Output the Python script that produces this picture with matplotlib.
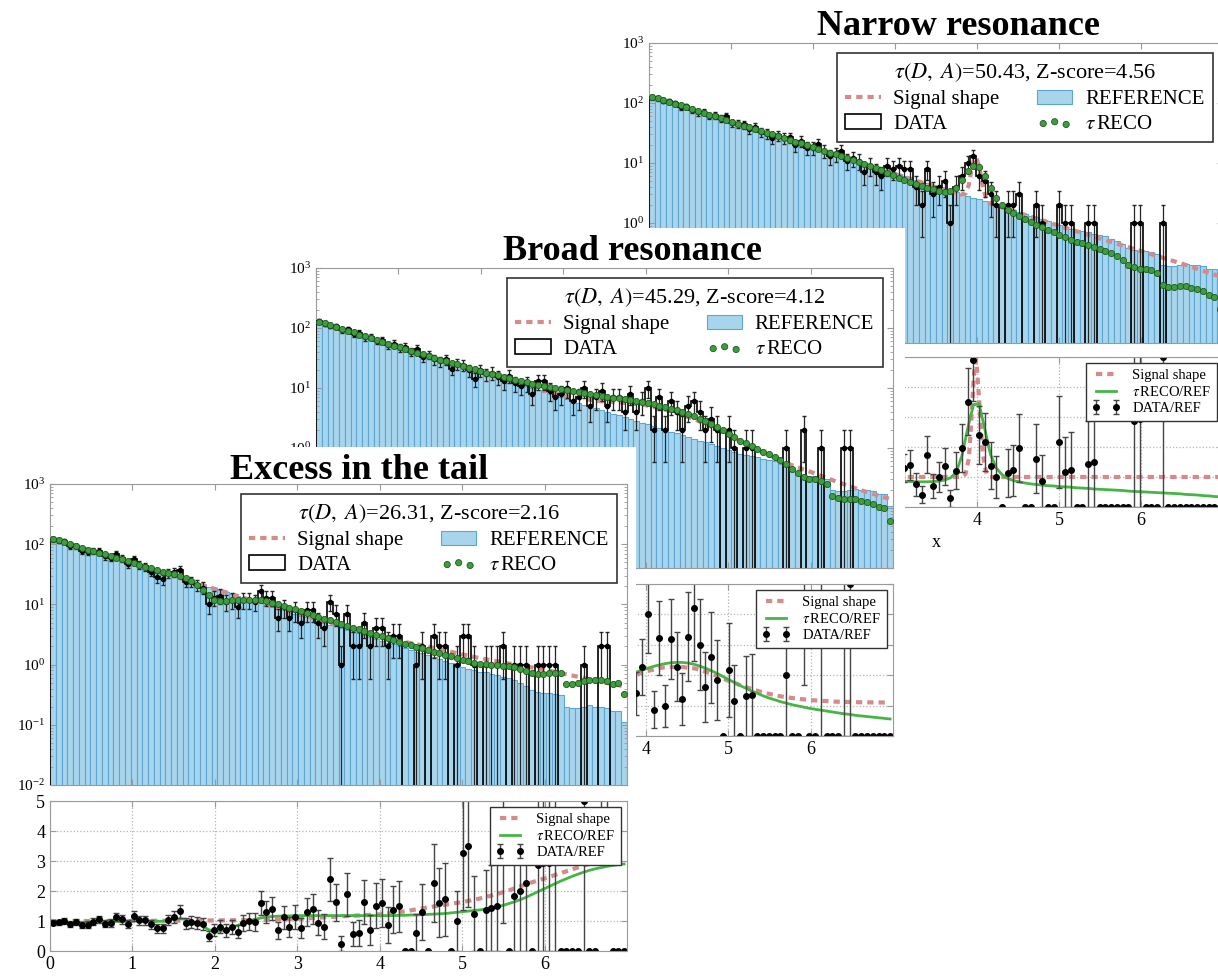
import numpy as np
import matplotlib
matplotlib.use("Agg")
import matplotlib.pyplot as plt
from matplotlib.patches import Rectangle

plt.rcParams["font.family"] = ["Liberation Serif", "DejaVu Serif"]
plt.rcParams["mathtext.fontset"] = "stix"

W, H = 1218, 977

# shared binning (100 bins of 0.07 on [0, 7]) and reference histogram
edges = np.linspace(0.0, 7.0, 101)
centers = 0.5 * (edges[:-1] + edges[1:])

ref = np.array([
    128, 120, 112, 104, 97, 91, 85, 79, 74, 69,
    64, 60, 56, 52, 49, 45, 42, 39.5, 37, 34.5,
    32, 30, 28, 26, 24.5, 22.8, 21.2, 19.8, 18.5, 17.2,
    16.0, 15.0, 14.0, 13.0, 12.2, 11.3, 10.6, 9.9, 9.2, 8.6,
    8.0, 7.5, 7.0, 6.5, 6.1, 5.7, 5.3, 4.9, 4.6, 4.3,
    4.0, 3.7, 3.5, 3.3, 3.05, 2.85, 2.65, 2.5, 2.32, 2.17,
    2.02, 1.88, 1.76, 1.64, 1.53, 1.43, 1.33, 1.24, 1.16, 1.08,
    1.0, 0.92, 0.86, 0.80, 0.76, 0.74, 0.70, 0.66, 0.63, 0.60,
    0.55, 0.50, 0.44, 0.38, 0.35, 0.34, 0.34, 0.33, 0.31, 0.20,
    0.19, 0.19, 0.20, 0.21, 0.20, 0.20, 0.19, 0.17, 0.17, 0.11])

# ---- Excess in the tail ----
tail_data = np.array([
    120, 115, 112, 92, 93, 78, 75, 77, 78, 63,
    60, 68, 59, 47, 57, 46, 43, 35, 28, 26,
    33, 34, 37, 24, 24, 21, 19, 10, 13, 14,
    11, 12, 9, 12, 12, 11, 17, 13, 13, 6,
    9, 6, 8, 5, 8, 8, 5, 4, 11, 7,
    1, 7, 2, 2, 5, 2, 4, 4, 2, 3,
    3, 0, 0, 1, 2, 0, 3, 2, 2, 0,
    1, 3, 3, 1, 0, 1, 1, 1, 2, 0,
    1, 1, 1, 0, 1, 1, 1, 1, 0, 0,
    0, 0, 1, 0, 0, 2, 2, 0, 0, 0], dtype=float)
tail_reco_ratio = np.array([
    0.97, 0.97, 0.97, 0.96, 0.96, 0.96, 0.96, 0.97, 0.97, 0.98,
    0.98, 0.99, 1.0, 1.0, 1.01, 1.01, 1.0, 1.0, 0.99, 0.99,
    1.04, 1.06, 1.07, 1.06, 1.0, 0.92, 0.82, 0.71, 0.65, 0.66,
    0.71, 0.78, 0.85, 0.92, 0.98, 1.05, 1.1, 1.13, 1.15, 1.16,
    1.17, 1.17, 1.18, 1.18, 1.18, 1.18, 1.18, 1.18, 1.18, 1.18,
    1.18, 1.18, 1.18, 1.18, 1.18, 1.18, 1.18, 1.18, 1.18, 1.18,
    1.19, 1.19, 1.2, 1.2, 1.21, 1.22, 1.23, 1.24, 1.25, 1.27,
    1.29, 1.31, 1.33, 1.35, 1.37, 1.4, 1.43, 1.47, 1.52, 1.58,
    1.64, 1.71, 1.79, 1.88, 1.97, 2.06, 2.15, 2.24, 2.33, 2.41,
    2.49, 2.56, 2.63, 2.69, 2.74, 2.78, 2.82, 2.85, 2.88, 2.9])
tail_sig_x = [0, 0.5, 1, 1.5, 2, 2.5, 3, 3.5, 4, 4.3, 4.6, 5, 5.2, 5.4, 5.6, 5.8,
              6, 6.2, 6.4, 6.6, 6.8, 6.95]
tail_sig_ratio = [1.0, 1.0, 1.0, 1.01, 1.02, 1.03, 1.07, 1.15, 1.22, 1.32, 1.46, 1.63,
                  1.74, 1.88, 2.05, 2.25, 2.42, 2.6, 2.78, 2.95, 3.15, 3.35]
tail_sig_top = [128, 78, 47.6, 29.3, 18.1, 11.1, 7.0, 4.6, 2.98, 2.39, 1.97, 1.48,
                1.29, 1.15, 1.02, 0.92, 0.82, 0.72, 0.63, 0.55, 0.48, 0.44]

# ---- Broad resonance ----
broad_data = np.array([
    131, 118, 109, 108, 92, 95, 80, 82, 70, 72,
    61, 63, 52, 55, 47, 49, 40, 45, 33, 36,
    30, 28, 30, 21, 25, 24, 20, 14, 20, 17,
    18, 15, 13, 16, 12, 11, 12, 8, 13, 13,
    9, 7, 8, 10, 6, 7, 10, 5, 7, 9,
    5, 7, 7, 4, 8, 4, 6, 10, 2, 7,
    2, 6, 4, 2, 5, 6, 4, 2, 3, 2,
    0, 2, 1, 0, 1, 1, 0, 0, 0, 0,
    0, 1, 0, 0, 2, 0, 0, 1, 0, 0,
    0, 1, 1, 0, 0, 0, 0, 0, 0, 0], dtype=float)
broad_reco_ratio = np.array([
    1.0, 1.0, 1.0, 0.99, 0.99, 0.99, 0.99, 0.98, 0.98, 0.98,
    0.98, 0.98, 0.98, 0.98, 0.98, 0.98, 0.98, 0.98, 0.98, 0.99,
    0.99, 0.99, 1.0, 1.0, 1.01, 1.01, 1.02, 1.03, 1.04, 1.05,
    1.06, 1.08, 1.09, 1.11, 1.13, 1.15, 1.18, 1.2, 1.23, 1.26,
    1.3, 1.33, 1.37, 1.41, 1.46, 1.51, 1.56, 1.61, 1.67, 1.73,
    1.79, 1.85, 1.91, 1.98, 2.04, 2.1, 2.17, 2.23, 2.29, 2.34,
    2.38, 2.41, 2.42, 2.42, 2.4, 2.36, 2.3, 2.23, 2.15, 2.06,
    1.96, 1.86, 1.76, 1.66, 1.57, 1.48, 1.4, 1.32, 1.25, 1.19,
    1.13, 1.08, 1.03, 0.99, 0.95, 0.91, 0.88, 0.85, 0.82, 0.79,
    0.76, 0.73, 0.71, 0.68, 0.66, 0.64, 0.62, 0.6, 0.58, 0.56])
broad_sig_x = [0, 0.5, 1, 1.5, 2, 2.5, 3, 3.4, 3.7, 3.96, 4.2, 4.4, 4.6, 4.8, 5.0,
               5.2, 5.4, 5.6, 5.8, 6.0, 6.3, 6.6, 6.95]
broad_sig_ratio = [1.0, 1.0, 1.0, 1.0, 1.02, 1.05, 1.15, 1.4, 1.75, 2.1, 2.25, 2.28,
                   2.22, 2.05, 1.82, 1.62, 1.45, 1.32, 1.24, 1.18, 1.13, 1.11, 1.1]
broad_sig_top = [128, 78, 47.6, 29.0, 18.0, 11.3, 7.5, 6.1, 5.7, 5.3, 4.5, 3.74,
                 2.98, 2.25, 1.64, 1.2, 0.88, 0.65, 0.5, 0.4, 0.28, 0.2, 0.143]

# ---- Narrow resonance ----
narrow_data = np.array([
    125, 121, 109, 106, 99, 87, 88, 77, 70, 71,
    61, 62, 55, 60, 46, 45, 44, 37, 40, 33,
    31, 26, 29, 26, 27, 20, 23, 18, 18, 21,
    16, 13, 14, 16, 11, 12, 11, 7, 9, 7,
    6, 9, 8, 9, 8, 8, 4, 2, 8, 3,
    4, 5, 1, 4, 6, 10, 13, 6, 5, 3,
    2, 0, 2, 2, 3, 0, 0, 2, 1, 0,
    0, 2, 1, 1, 0, 0, 1, 1, 0, 0,
    0, 0, 0, 0, 1, 1, 0, 0, 0, 1,
    0, 0, 0, 0, 0, 0, 0, 0, 0, 0], dtype=float)
narrow_reco_ratio = np.array([
    1.0, 1.0, 1.0, 1.0, 1.0, 1.0, 1.0, 1.0, 1.0, 1.0,
    1.0, 1.0, 1.0, 1.0, 1.0, 1.0, 1.0, 1.0, 1.0, 1.0,
    1.0, 1.0, 1.0, 1.0, 1.0, 1.0, 1.0, 1.0, 1.0, 0.99,
    0.99, 0.99, 0.99, 0.99, 0.98, 0.98, 0.98, 0.97, 0.97, 0.96,
    0.95, 0.92, 0.9, 0.88, 0.86, 0.85, 0.84, 0.84, 0.84, 0.85,
    0.86, 0.9, 0.97, 1.15, 1.7, 2.6, 3.4, 3.45, 2.6, 1.75,
    1.3, 1.08, 0.95, 0.88, 0.84, 0.8, 0.77, 0.75, 0.73, 0.71,
    0.7, 0.68, 0.67, 0.66, 0.64, 0.63, 0.62, 0.6, 0.59, 0.58,
    0.57, 0.56, 0.55, 0.53, 0.52, 0.51, 0.5, 0.49, 0.48, 0.47,
    0.46, 0.45, 0.44, 0.42, 0.41, 0.4, 0.38, 0.37, 0.35, 0.34])
narrow_sig_x = [0, 0.5, 1, 1.5, 2, 2.5, 3, 3.5, 3.8, 3.86, 3.9, 3.93, 3.96, 3.98, 4.0,
                4.03, 4.06, 4.09, 4.12, 4.16, 4.5, 5, 5.5, 6, 6.5, 6.95]
narrow_sig_ratio = [1, 1, 1, 1, 1, 1, 1, 1, 1.0, 1.1, 1.6, 2.8, 4.3, 4.9, 4.6,
                    3.4, 2.1, 1.4, 1.1, 1.0, 1, 1, 1, 1, 1, 1]
narrow_sig_top = [128, 78, 47.6, 29.0, 17.7, 10.8, 6.56, 4.0, 2.97, 3.1, 4.3, 7.4,
                  11.0, 12.3, 11.4, 8.2, 4.9, 3.2, 2.4, 2.12, 1.49, 0.9, 0.55, 0.34,
                  0.21, 0.13]

REF_FACE = "#a9d5ec"
REF_EDGE = "#5ba6d4"
SIG_COL = "#d68a8a"
RECO_FACE = "#3f9c3f"
RECO_EDGE = "#1d5a1d"
RECO_LINE = "#45b545"
SPINE = "#9a9a9a"
SIG_LS = (0, (1.5, 1.2))


def px_axes(fig, left, top, right, bottom):
    return fig.add_axes([left / W, 1 - bottom / H, (right - left) / W, (bottom - top) / H])


def style_axes(ax):
    for sp in ax.spines.values():
        sp.set_color(SPINE)
    ax.tick_params(direction="in", top=True, right=True, color=SPINE, length=4)
    ax.tick_params(which="minor", direction="in", top=True, right=True, color=SPINE, length=2)


def draw_panel(fig, box, top_rect, ratio_rect, title, title_xy, tau_text,
               data, reco_ratio, sig_x, sig_top, sig_ratio):
    # white card so this panel hides the ones behind it
    bg = px_axes(fig, *box)
    bg.set_axis_off()
    bg.add_patch(Rectangle((0, 0), 1, 1, transform=bg.transAxes,
                           facecolor="white", edgecolor="none"))
    bg.text(title_xy[0] / W, 1 - title_xy[1] / H, title, transform=fig.transFigure,
            ha="center", va="baseline", fontsize=26, fontweight="bold")

    # upper panel: histograms on log scale
    ax = px_axes(fig, *top_rect)
    ax.set_yscale("log", nonpositive="clip")
    bars = ax.bar(edges[:-1], ref, width=0.07, align="edge", color=REF_FACE,
                  edgecolor=REF_EDGE, linewidth=0.8)
    sig_line, = ax.plot(sig_x, sig_top, color=SIG_COL, lw=3, ls=SIG_LS, zorder=2)
    _, _, step = ax.hist(centers, bins=edges, weights=data, histtype="step",
                         color="k", lw=1.2, zorder=3)
    pos = data > 0
    ax.errorbar(centers[pos], data[pos], yerr=np.sqrt(data[pos]), fmt="o", color="k",
                ms=3, ecolor="#262626", elinewidth=0.9, capsize=1.5, zorder=3)
    reco = ax.scatter(centers, ref * reco_ratio, s=20, c=RECO_FACE,
                      edgecolors=RECO_EDGE, linewidths=0.6, zorder=4)
    ax.set_xlim(0, 7)
    ax.set_ylim(1e-2, 1e3)
    ax.set_xticks(range(7))
    ax.tick_params(labelbottom=False, labelsize=11)
    style_axes(ax)
    leg = ax.legend([sig_line, step[0], bars, reco],
                    ["Signal shape", "DATA", "REFERENCE", r"$\tau\,$RECO"],
                    ncol=2, loc="upper right", title=tau_text, fontsize=15,
                    title_fontsize=16, fancybox=False, framealpha=1, edgecolor="#333333",
                    scatterpoints=3, handlelength=1.7, labelspacing=0.25,
                    columnspacing=1.8, borderaxespad=0.5, handletextpad=0.6)
    leg.get_frame().set_linewidth(1.2)

    # lower panel: ratios to the reference
    rx = px_axes(fig, *ratio_rect)
    rx.plot(sig_x, sig_ratio, color=SIG_COL, lw=3, ls=SIG_LS, label="Signal shape")
    rx.plot(centers, reco_ratio, color=RECO_LINE, lw=2, label=r"$\tau\,$RECO/REF")
    rx.errorbar(centers, data / ref, yerr=np.sqrt(data) / ref, fmt="o", color="k",
                ms=4, ecolor="#454545", elinewidth=1, capsize=2, label="DATA/REF")
    rx.set_xlim(0, 7)
    rx.set_ylim(0, 5)
    rx.set_xticks(range(7))
    rx.set_yticks(range(6))
    rx.grid(True, ls=":", color="#b5b5b5", lw=0.9)
    rx.set_xlabel("x", fontsize=13)
    rx.tick_params(labelsize=13)
    style_axes(rx)
    rleg = rx.legend(loc="upper right", fontsize=10.5, numpoints=2, fancybox=False,
                     framealpha=1, edgecolor="#333333", labelspacing=0.2,
                     borderaxespad=0.4, handlelength=2.0)
    rleg.get_frame().set_linewidth(1.0)


fig = plt.figure(figsize=(W / 100, H / 100), dpi=100)

draw_panel(fig, (600, 0, 1218, 560), (649, 43, 1223, 343), (649, 357, 1223, 507),
           "Narrow resonance", (958, 35), r"$\tau(D,\ A)$=50.43, Z-score=4.56",
           narrow_data, narrow_reco_ratio, narrow_sig_x, narrow_sig_top, narrow_sig_ratio)
draw_panel(fig, (260, 228, 905, 790), (316, 268, 893, 568), (316, 584, 893, 736),
           "Broad resonance", (632, 260), r"$\tau(D,\ A)$=45.29, Z-score=4.12",
           broad_data, broad_reco_ratio, broad_sig_x, broad_sig_top, broad_sig_ratio)
draw_panel(fig, (0, 447, 636, 977), (50, 484, 627, 785), (50, 801, 627, 951),
           "Excess in the tail", (359, 479), r"$\tau(D,\ A)$=26.31, Z-score=2.16",
           tail_data, tail_reco_ratio, tail_sig_x, tail_sig_top, tail_sig_ratio)

fig.savefig("out.png", dpi=100, facecolor="white")
